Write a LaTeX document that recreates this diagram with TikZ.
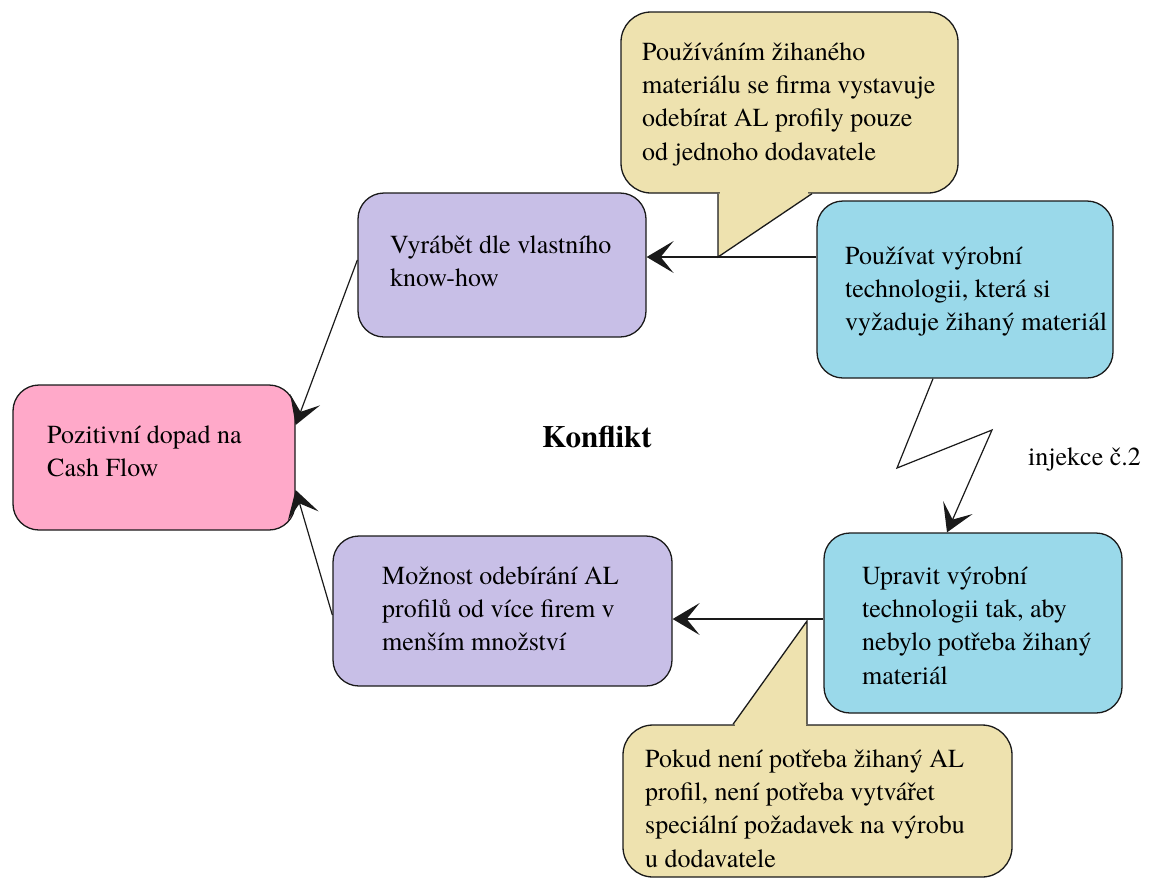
\documentclass[tikz,border=0pt]{standalone}
\usepackage{fontspec}
\IfFontExistsTF{texgyretermes-regular.otf}
  {\setmainfont{texgyretermes}[Extension=.otf, UprightFont=*-regular,
     BoldFont=*-bold, ItalicFont=*-italic, BoldItalicFont=*-bolditalic]}
  {\setmainfont{Liberation Serif}}
\usetikzlibrary{arrows.meta}

\definecolor{pinkfill}{HTML}{FFA9C9}
\definecolor{purplefill}{HTML}{C8BFE7}
\definecolor{bluefill}{HTML}{9AD9EA}
\definecolor{notefill}{HTML}{EEE2AF}
\definecolor{edge}{HTML}{1A1A1A}

% left-aligned lines whose first baseline is the node's base
\newcommand\boxlines[1]{\begin{tabular}[t]{@{}l@{}}#1\end{tabular}}

\begin{document}
\begin{tikzpicture}[x=1pt,y=-1pt,
  every node/.style={font=\fontsize{26}{33.4}\selectfont},
  box/.style={draw=edge, line width=1.3pt, rounded corners=26pt, inner sep=0pt},
  txt/.style={anchor=base west, inner sep=0pt},
  arr/.style={draw=edge, line width=1.2pt, -{Stealth[length=27pt,width=32pt,inset=13pt]}},
  edgeline/.style={draw=edge, line width=1.3pt}]

\useasboundingbox (0,0) rectangle (1149,879);

% boxes
\node[box, fill=pinkfill,   minimum width=282pt, minimum height=145pt] (pink)    at (154,457.5) {};
\node[box, fill=purplefill, minimum width=288pt, minimum height=144pt] (purple1) at (502,265) {};
\node[box, fill=purplefill, minimum width=339pt, minimum height=150pt] (purple2) at (502.5,611) {};
\node[box, fill=bluefill,   minimum width=296pt, minimum height=177pt] (blue1)   at (965,289.5) {};
\node[box, fill=bluefill,   minimum width=298pt, minimum height=180pt] (blue2)   at (973,623) {};
\node[box, fill=notefill,   minimum width=337pt, minimum height=181pt, rounded corners=30pt] (note1) at (789.5,102.5) {};
\node[box, fill=notefill,   minimum width=389pt, minimum height=152pt, rounded corners=30pt] (note2) at (817.5,801) {};

% callout pointers
\fill[notefill] (note1.south -| 718,0) -- (note1.south -| 812,0) -- (718,257) -- cycle;
\fill[notefill] (719.5,189) rectangle (808,195);
\draw[edgeline] (note1.south -| 718,0) -- (718,257) -- (note1.south -| 812,0);

\fill[notefill] (note2.north -| 733,0) -- (807,621) -- (note2.north -| 807,0) -- cycle;
\fill[notefill] (735,723) rectangle (806,729);
\draw[edgeline] (note2.north -| 733,0) -- (807,621) -- (note2.north -| 807,0);

% texts
\node[txt] (pinkText)    at (47,443)  {\boxlines{Pozitivní dopad na\\Cash Flow}};
\node[txt] (purple1Text) at (390,253) {\boxlines{Vyrábět dle vlastního\\know-how}};
\node[txt] (purple2Text) at (382,584) {\boxlines{Možnost odebírání AL\\profilů od více firem v\\menším množství}};
\node[txt] (blue1Text)   at (845,264) {\boxlines{Používat výrobní\\technologii, která si\\vyžaduje žihaný materiál}};
\node[txt] (blue2Text)   at (862,584) {\boxlines{Upravit výrobní\\technologii tak, aby\\nebylo potřeba žihaný\\materiál}};
\node[txt] (note1Text)   at (642,60)  {\boxlines{Používáním žihaného\\materiálu se firma vystavuje\\odebírat AL profily pouze\\od jednoho dodavatele}};
\node[txt] (note2Text)   at (645,767) {\boxlines{Pokud není potřeba žihaný AL\\profil, není potřeba vytvářet\\speciální požadavek na výrobu\\u dodavatele}};
\node[txt, font=\fontsize{31}{36}\selectfont\bfseries] (conflict) at (542,447) {Konflikt};
\node[txt] (injection) at (1028,465) {injekce č.2};

% connectors
\draw[arr] (blue1.west |- 0,257) -- (purple1.east |- 0,257);
\draw[arr] (blue2.west |- 0,619) -- (purple2.east |- 0,619);
\draw[arr] (purple1.west |- 0,260) -- (pink.east |- 0,425);
\draw[arr] (purple2.west |- 0,615) -- (pink.east |- 0,490);
\draw[arr] (blue1.south -| 933,0) -- (897,468) -- (992,430) -- (blue2.north -| 947,0);

\end{tikzpicture}
\end{document}
